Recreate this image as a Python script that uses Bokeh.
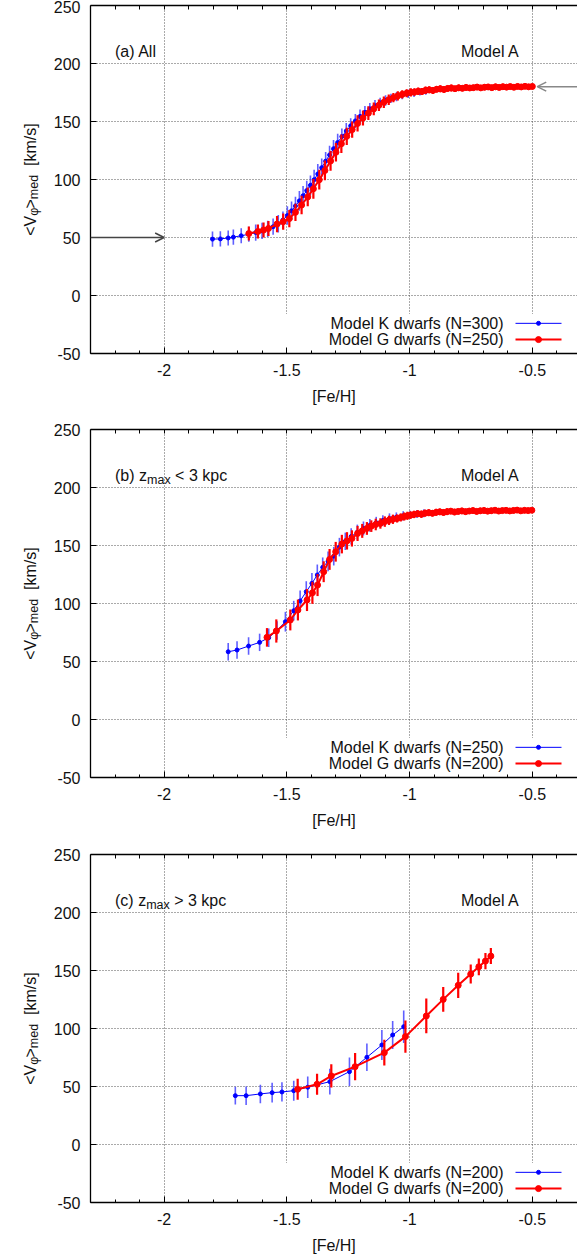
import math
from bokeh.plotting import figure
from bokeh.layouts import column, row
from bokeh.models import (Range1d, SingleIntervalTicker, FixedTicker, LinearAxis,
                          CustomJSTickFormatter, Label, BoxAnnotation, Arrow, OpenHead,
                          ColumnDataSource)
from bokeh.embed import file_html
from bokeh.resources import INLINE

# ================= DATA =================
# ---- panel (a) All ----
ka_x = [-1.803, -1.771, -1.739, -1.718, -1.686, -1.655, -1.627, -1.601, -1.578, -1.556,
        -1.535, -1.516, -1.498, -1.481, -1.465, -1.449, -1.434, -1.419, -1.404, -1.389,
        -1.374, -1.358, -1.342, -1.326, -1.310, -1.293, -1.276, -1.258, -1.240, -1.221,
        -1.202, -1.182, -1.162, -1.141, -1.120, -1.098, -1.076, -1.053, -1.030, -1.006,
        -0.982, -0.958, -0.934]
ka_y = [48.6, 48.8, 49.6, 50.3, 51.5, 52.8, 54.3, 55.8, 57.4, 59.3,
        61.8, 65.0, 69.0, 73.0, 77.2, 81.6, 86.0, 90.5, 95.0, 99.8,
        104.8, 110.2, 115.8, 121.2, 126.5, 131.9, 137.0, 141.8, 146.3, 150.5,
        154.4, 157.9, 160.9, 163.6, 166.0, 168.1, 169.9, 171.4, 172.7, 173.8,
        174.7, 175.4, 176.0]
ka_e = [6.5, 6.5, 6.5, 6.5, 6.5, 6.5, 7.0, 7.0, 7.0, 7.0,
        7.5, 7.5, 8.0, 8.0, 8.0, 8.5, 8.5, 8.5, 8.5, 8.5,
        8.5, 8.0, 8.0, 8.0, 7.5, 7.5, 7.0, 7.0, 6.5, 6.0,
        6.0, 5.5, 5.0, 5.0, 4.5, 4.5, 4.0, 4.0, 3.5, 3.5,
        3.5, 3.0, 3.0]

ga_x = [-1.655, -1.618, -1.595, -1.575, -1.540, -1.515, -1.490, -1.465, -1.440, -1.415,
        -1.392, -1.368, -1.345, -1.322, -1.300, -1.278, -1.256, -1.234, -1.212, -1.190,
        -1.168, -1.146, -1.125, -1.105, -1.085, -1.066, -1.048, -1.030, -1.012, -0.995,
        -0.980, -0.965, -0.950, -0.935, -0.920, -0.905, -0.890, -0.875, -0.860, -0.845,
        -0.830, -0.815, -0.800, -0.785, -0.770, -0.755, -0.740, -0.725, -0.710, -0.695,
        -0.680, -0.665, -0.650, -0.635, -0.620, -0.605, -0.590, -0.575, -0.560, -0.545,
        -0.530, -0.515, -0.500]
ga_y = [53.4, 55.2, 56.4, 57.8, 61.6, 63.6, 66.3, 71.7, 78.0, 85.0,
        92.0, 99.8, 107.8, 116.0, 123.5, 130.8, 137.2, 143.0, 148.3, 153.0,
        157.2, 160.9, 164.0, 166.6, 168.8, 170.6, 172.1, 173.4, 174.4, 175.1,
        175.4, 176.1, 175.8, 176.9, 177.3, 176.8, 177.8, 178.2, 177.6, 178.5,
        178.9, 178.3, 179.0, 178.6, 179.4, 178.9, 179.2, 179.7, 179.0, 179.5,
        179.8, 179.2, 179.9, 179.4, 180.0, 179.6, 180.1, 179.5, 180.2, 179.8,
        180.3, 179.9, 180.2]
ga_e = [6.0, 6.0, 6.5, 6.5, 7.0, 7.0, 7.5, 7.5, 8.0, 8.0,
        8.5, 8.5, 8.5, 8.5, 8.0, 8.0, 7.5, 7.0, 7.0, 6.5,
        6.0, 5.5, 5.0, 5.0, 4.5, 4.0, 4.0, 3.5, 3.5, 3.5,
        3.2, 3.2, 3.0, 3.2, 3.0, 3.0, 2.8, 3.0, 2.8, 2.8,
        3.0, 2.6, 2.8, 2.6, 2.8, 2.6, 2.5, 2.7, 2.5, 2.6,
        2.5, 2.4, 2.6, 2.4, 2.5, 2.4, 2.5, 2.3, 2.5, 2.4,
        2.3, 2.5, 2.4]

# ---- panel (b) z_max < 3 kpc ----
kb_x = [-1.739, -1.703, -1.656, -1.611, -1.574, -1.540, -1.506, -1.472, -1.446, -1.421,
        -1.398, -1.376, -1.354, -1.332, -1.309, -1.286, -1.262, -1.238, -1.213, -1.188,
        -1.162, -1.136, -1.109, -1.082, -1.054, -1.026, -0.998, -0.970, -0.942]
kb_y = [58.4, 59.9, 63.3, 66.5, 70.5, 76.8, 84.3, 93.8, 102.2, 110.2,
        117.4, 124.6, 131.2, 136.4, 140.8, 148.6, 153.6, 157.8, 161.5, 164.7,
        167.4, 169.7, 171.6, 173.2, 174.5, 175.6, 176.5, 177.2, 177.8]
kb_e = [7.5, 7.5, 7.5, 7.5, 8.0, 8.0, 8.5, 8.5, 9.0, 9.0,
        9.0, 9.0, 8.5, 8.5, 8.0, 8.0, 7.5, 7.0, 6.5, 6.0,
        5.5, 5.0, 4.5, 4.5, 4.0, 4.0, 3.5, 3.5, 3.5]

gb_x = [-1.581, -1.543, -1.486, -1.455, -1.418, -1.396, -1.375, -1.350, -1.326, -1.301,
        -1.276, -1.255, -1.235, -1.212, -1.193, -1.174, -1.156, -1.138, -1.119, -1.101,
        -1.084, -1.068, -1.051, -1.036, -1.022, -1.009, -0.996, -0.982, -0.967, -0.952,
        -0.937, -0.922, -0.907, -0.892, -0.877, -0.862, -0.847, -0.832, -0.817, -0.802,
        -0.787, -0.772, -0.757, -0.742, -0.727, -0.712, -0.697, -0.682, -0.667, -0.652,
        -0.637, -0.622, -0.607, -0.592, -0.577, -0.562, -0.547, -0.532, -0.517, -0.502]
gb_y = [70.8, 76.3, 85.8, 94.4, 103.0, 109.2, 115.9, 127.4, 138.0, 144.6,
        151.2, 154.0, 156.1, 160.4, 162.6, 164.7, 166.7, 168.1, 169.0, 170.6,
        171.7, 172.6, 173.3, 174.2, 175.0, 175.6, 176.2, 176.8, 177.4, 177.0,
        177.9, 178.3, 177.8, 178.6, 179.0, 178.5, 179.2, 179.6, 178.9, 179.4,
        179.8, 179.2, 179.7, 180.1, 179.4, 179.9, 180.2, 179.6, 180.0, 180.4,
        179.7, 180.1, 180.3, 179.8, 180.2, 180.5, 179.9, 180.3, 180.1, 180.4]
gb_e = [8.0, 10.0, 9.0, 9.0, 9.5, 9.5, 9.5, 9.0, 9.0, 8.5,
        8.0, 7.5, 7.0, 6.5, 6.0, 5.5, 5.0, 5.0, 4.5, 4.5,
        4.0, 4.0, 3.5, 3.5, 3.5, 3.5, 3.2, 3.2, 3.0, 3.2,
        3.0, 3.0, 2.8, 3.0, 2.8, 2.8, 3.0, 2.6, 2.8, 2.6,
        2.8, 2.6, 2.5, 2.7, 2.5, 2.6, 2.5, 2.4, 2.6, 2.4,
        2.5, 2.4, 2.5, 2.3, 2.5, 2.4, 2.3, 2.5, 2.4, 2.4]

# ---- panel (c) z_max > 3 kpc ----
kc_x = [-1.710, -1.666, -1.608, -1.560, -1.520, -1.472, -1.415, -1.325, -1.245, -1.174,
        -1.113, -1.069, -1.024]
kc_y = [42.1, 42.1, 43.6, 44.7, 45.3, 46.4, 49.4, 54.2, 62.8, 75.2,
        85.8, 94.4, 101.6]
kc_e = [7.6, 8.0, 8.0, 8.5, 8.3, 8.6, 9.3, 11.0, 12.3, 11.8,
        13.0, 12.0, 14.0]

gc_x = [-1.456, -1.377, -1.319, -1.222, -1.103, -1.017, -0.932, -0.863, -0.802, -0.751,
        -0.718, -0.691, -0.669]
gc_y = [47.6, 51.9, 59.1, 67.1, 79.2, 93.0, 110.8, 125.1, 137.2, 146.9,
        153.2, 158.1, 162.4]
gc_e = [9.0, 9.0, 10.0, 11.8, 11.0, 14.0, 15.0, 10.6, 10.8, 8.2,
        7.2, 7.0, 6.9]

sample_sizes = {"a": (300, 250), "b": (250, 200), "c": (200, 200)}
arrow_levels = [50, 180]          # asymptotic <V_phi> levels marked in panel (a)

# ================= LAYOUT / STYLE =================
FONT = "Liberation Sans"
X0, X1 = -2.3, -0.316
Y0, Y1 = -50, 250
FW = 487            # frame width
FH = 348            # frame height
LW = 45             # width of the strip that carries the rotated y label
LEFT = 45           # border left of the frame inside the main figure
FRAME_LEFT_PAGE = LW + LEFT
BLUE = "#0000ff"
RED = "#ff0000"
TXT = "#111"
EM = {"<V": 1.251, "φ": 0.58, ">": 0.584, "med": 1.945, "[km/s]": 2.667,
      "(b) z": 2.0, "(c) z": 1.944, "max": 1.889, " ": 0.278}


def px_x(page_px):
    return X0 + (page_px - FRAME_LEFT_PAGE) * (X1 - X0) / FW


def ylabel_strip(b_top, b_bottom):
    lf = figure(frame_width=LW, frame_height=FH, x_range=Range1d(0, LW),
                y_range=Range1d(Y0, Y1), output_backend="svg", toolbar_location=None,
                x_axis_location=None, y_axis_location=None, outline_line_color=None,
                min_border_left=0, min_border_right=0,
                min_border_top=b_top, min_border_bottom=b_bottom)
    lf.grid.visible = False
    ppu = FH / (Y1 - Y0)
    pieces = [("<V", 16, False, 0.0), ("φ", 12.5, True, 0.0), (">", 16, False, 0.0),
              ("med", 12.5, True, 0.0), ("[km/s]", 16, False, 2 * EM[" "] * 16)]
    total = sum(EM[t] * s + gap for t, s, _, gap in pieces)
    cum = -total / 2
    for t, s, is_sub, gap in pieces:
        cum += gap
        xb = 33.5 if is_sub else 29.5
        lf.add_layout(Label(x=xb, y=(Y0 + Y1) / 2 + cum / ppu, text=t, angle=math.pi / 2,
                            text_font=FONT, text_font_size=f"{s}px", text_color=TXT,
                            text_align="left", text_baseline="alphabetic"))
        cum += EM[t] * s
    return lf


def make_panel(kx, ky, ke, gx, gy, ge, nk, ng, tag, b_top, b_bottom, arrows=False):
    p = figure(frame_width=FW, frame_height=FH,
               x_range=Range1d(X0, X1), y_range=Range1d(Y0, Y1),
               output_backend="svg", toolbar_location=None,
               min_border_left=LEFT, min_border_right=0,
               min_border_top=b_top, min_border_bottom=b_bottom,
               outline_line_color=None)
    ppu = FH / (Y1 - Y0)

    xt = SingleIntervalTicker(interval=0.5, num_minor_ticks=5)
    yt = SingleIntervalTicker(interval=50, num_minor_ticks=0)
    fmt = CustomJSTickFormatter(code="return String(tick);")
    top_ticks = FixedTicker(ticks=[], minor_ticks=[round(X0 + 0.1 * i, 1) for i in range(1, 20)])

    top = LinearAxis(ticker=top_ticks)
    p.add_layout(top, "above")
    for ax in list(p.xaxis) + list(p.yaxis):
        ax.axis_line_color = "#000"
        ax.axis_line_width = 1.3
        ax.major_tick_line_color = "#000"
        ax.minor_tick_line_color = "#000"
        ax.major_tick_in = 6
        ax.major_tick_out = 0
        ax.minor_tick_in = 3
        ax.minor_tick_out = 0
        ax.major_label_text_font = FONT
        ax.major_label_text_font_size = "16px"
        ax.major_label_text_color = TXT
        ax.axis_label_text_font = FONT
        ax.axis_label_text_font_size = "16px"
        ax.axis_label_text_font_style = "normal"
        ax.axis_label_text_color = TXT
    bottom = p.below[0]
    bottom.ticker = xt
    bottom.formatter = fmt
    bottom.major_label_standoff = 10
    bottom.axis_label = "[Fe/H]"
    bottom.axis_label_standoff = 9
    top.minor_tick_in = 4
    for ax in p.yaxis:
        ax.ticker = yt
        ax.formatter = CustomJSTickFormatter(code="return String(tick);")
        ax.major_label_standoff = 10

    p.xgrid.ticker = SingleIntervalTicker(interval=0.5)
    p.ygrid.ticker = SingleIntervalTicker(interval=50)
    for g in (p.xgrid[0], p.ygrid[0]):
        g.grid_line_color = "#444"
        g.grid_line_dash = "1 2"
        g.grid_line_width = 1
        g.grid_line_alpha = 0.9

    # key area masks the grid (as gnuplot's opaque key)
    p.add_layout(BoxAnnotation(left=-1.53, top=-16, fill_color="white", fill_alpha=1.0,
                               line_color=None, level="underlay"))

    if arrows:
        p.add_layout(Arrow(end=OpenHead(size=9, line_color="#444", line_width=1.5),
                           x_start=X0, y_start=arrow_levels[0], x_end=-2.0, y_end=arrow_levels[0],
                           line_color="#444", line_width=1.5))
        p.add_layout(Arrow(end=OpenHead(size=9, line_color="#888", line_width=1.5),
                           x_start=X1, y_start=arrow_levels[1], x_end=-0.48, y_end=arrow_levels[1],
                           line_color="#888", line_width=1.5))

    # K dwarfs (blue)
    sk = ColumnDataSource(dict(x=kx, y=ky, lo=[a - b for a, b in zip(ky, ke)],
                               hi=[a + b for a, b in zip(ky, ke)]))
    p.segment(x0="x", y0="lo", x1="x", y1="hi", source=sk, line_color="#2a2aff",
              line_width=1.6, line_alpha=0.75)
    p.line("x", "y", source=sk, line_color=BLUE, line_width=1)
    p.scatter("x", "y", source=sk, size=4, fill_color=BLUE, line_color=BLUE)
    # G dwarfs (red)
    sg = ColumnDataSource(dict(x=gx, y=gy, lo=[a - b for a, b in zip(gy, ge)],
                               hi=[a + b for a, b in zip(gy, ge)]))
    p.segment(x0="x", y0="lo", x1="x", y1="hi", source=sg, line_color=RED, line_width=2.2)
    p.line("x", "y", source=sg, line_color=RED, line_width=2)
    p.scatter("x", "y", source=sg, size=6, fill_color=RED, line_color=RED)

    # legend (gnuplot style: text then sample)
    lx_text, lx0, lx1 = px_x(503), px_x(515), px_x(561)
    lxm = (lx0 + lx1) / 2
    for row_y, name, n, col, lw, ms in [(-24, "K", nk, BLUE, 1, 4), (-38, "G", ng, RED, 2, 6)]:
        p.add_layout(Label(x=lx_text, y=row_y, text=f"Model {name} dwarfs (N={n})",
                           text_font=FONT, text_font_size="16px", text_color=TXT,
                           text_align="right", text_baseline="middle"))
        p.line([lx0, lx1], [row_y, row_y], line_color=col, line_width=lw)
        p.scatter([lxm], [row_y], size=ms, fill_color=col, line_color=col)

    # panel tag and model name
    tx = -2.2
    if len(tag) == 1:
        p.add_layout(Label(x=tx, y=210, text=tag[0], text_font=FONT, text_font_size="16px",
                           text_color=TXT, text_align="left", text_baseline="middle"))
    else:
        first, sub, rest = tag
        off = 0.0
        p.add_layout(Label(x=tx, y=210, text=first, text_font=FONT, text_font_size="16px",
                           text_color=TXT, text_align="left", text_baseline="middle"))
        off += EM[first] * 16
        p.add_layout(Label(x=tx, y=210 - 4 / ppu, x_offset=off, text=sub, text_font=FONT,
                           text_font_size="12.5px", text_color=TXT, text_align="left",
                           text_baseline="middle"))
        off += EM[sub] * 12.5 + EM[" "] * 16
        p.add_layout(Label(x=tx, y=210, x_offset=off, text=rest, text_font=FONT,
                           text_font_size="16px", text_color=TXT, text_align="left",
                           text_baseline="middle"))
    p.add_layout(Label(x=-0.552, y=210, text="Model A", text_font=FONT, text_font_size="16px",
                       text_color=TXT, text_align="right", text_baseline="middle"))
    return p


# vertical borders: panel frames at 5-353, 429-777, 854-1202 in page pixels
borders = [(5, 56), (20, 56), (21, 56)]
pa = make_panel(ka_x, ka_y, ka_e, ga_x, ga_y, ga_e, *sample_sizes["a"], ["(a) All"],
                *borders[0], arrows=True)
pb = make_panel(kb_x, kb_y, kb_e, gb_x, gb_y, gb_e, *sample_sizes["b"],
                ["(b) z", "max", "< 3 kpc"], *borders[1])
pc = make_panel(kc_x, kc_y, kc_e, gc_x, gc_y, gc_e, *sample_sizes["c"],
                ["(c) z", "max", "> 3 kpc"], *borders[2])

layout = column(row(ylabel_strip(*borders[0]), pa, spacing=0),
                row(ylabel_strip(*borders[1]), pb, spacing=0),
                row(ylabel_strip(*borders[2]), pc, spacing=0), spacing=0)
open("out.html", "w").write(file_html(layout, INLINE))
